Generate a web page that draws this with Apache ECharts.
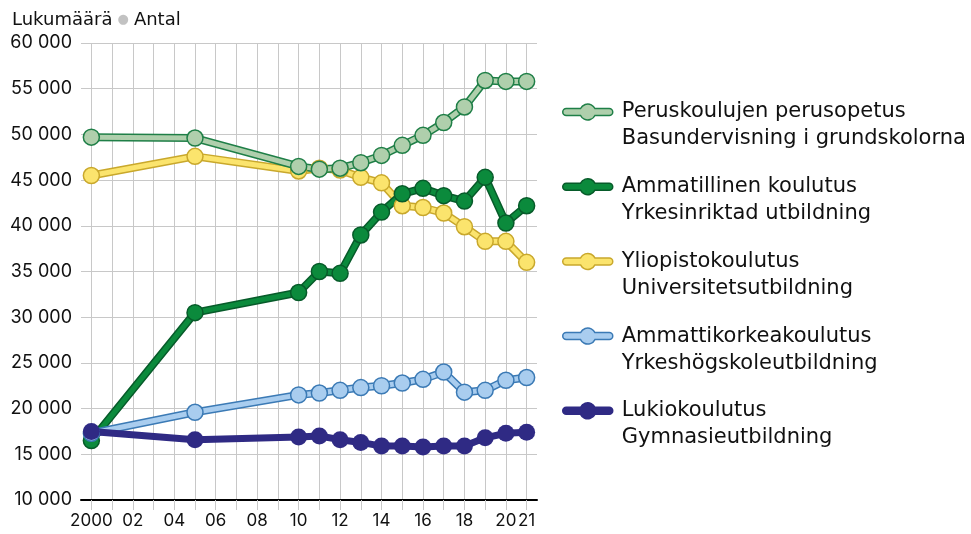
<!DOCTYPE html>
<html>
<head>
<meta charset="utf-8">
<script src="https://cdn.jsdelivr.net/npm/echarts@6/dist/echarts.min.js"></script>
<style>
  html, body { margin: 0; padding: 0; background: #fff; }
  #chart { width: 971px; height: 534px; }
</style>
</head>
<body>
<div id="chart"></div>
<script>
// data
var years = [2000, 2005, 2010, 2011, 2012, 2013, 2014, 2015, 2016, 2017, 2018, 2019, 2020, 2021]
var peruskoulu = [49700, 49600, 46500, 46200, 46300, 46900, 47700, 48800, 49900, 51300, 53000, 55900, 55800, 55800]
var ammatillinen = [16500, 30500, 32700, 35000, 34800, 39000, 41500, 43500, 44100, 43300, 42700, 45300, 40300, 42200]
var yliopisto = [45500, 47600, 46000, 46300, 46100, 45300, 44700, 42200, 42000, 41400, 39900, 38300, 38300, 36000]
var amk = [17300, 19600, 21500, 21700, 22000, 22300, 22500, 22800, 23200, 24000, 21800, 22000, 23100, 23400]
var lukio = [17500, 16600, 16900, 17000, 16600, 16300, 15900, 15900, 15800, 15900, 15900, 16800, 17300, 17400]

var gridYears = [2000, 2001, 2002, 2003, 2004, 2005, 2006, 2007, 2008, 2009, 2010, 2011, 2012, 2013, 2014, 2015, 2016, 2017, 2018, 2019, 2020, 2021]
var labelYears = [2000, 2002, 2004, 2006, 2008, 2010, 2012, 2014, 2016, 2018, 2020, 2021]

var names = {
  perus: 'Peruskoulujen perusopetus\nBasundervisning i grundskolorna',
  amm: 'Ammatillinen koulutus\nYrkesinriktad utbildning',
  yo: 'Yliopistokoulutus\nUniversitetsutbildning',
  amk: 'Ammattikorkeakoulutus\nYrkeshögskoleutbildning',
  lukio: 'Lukiokoulutus\nGymnasieutbildning'
}

var FONT = 'Inter, "Noto Sans", sans-serif'
var TEXT_FONT = '"DejaVu Sans", sans-serif'

// legend icon: rounded band with a circle in the middle
var iconPath = 'path://M3.5 4.5 L17.81 4.5 A8 8 0 0 1 32.19 4.5 L46.5 4.5 A3.5 3.5 0 0 1 46.5 11.5 L32.19 11.5 A8 8 0 0 1 17.81 11.5 L3.5 11.5 A3.5 3.5 0 0 1 3.5 4.5 Z'

function pairs(values) {
  return years.map(function(y, i) { return [y, values[i]] })
}

// two lines per series: a wide dark one under a narrower light one
function outlined(name, values, fill, border) {
  return [{
    name: name,
    type: 'line',
    data: pairs(values),
    symbol: 'none',
    silent: true,
    lineStyle: { width: 8, color: border },
    emphasis: { disabled: true }
  }, {
    name: name,
    type: 'line',
    data: pairs(values),
    symbol: 'circle',
    symbolSize: 16,
    lineStyle: { width: 5, color: fill },
    itemStyle: { color: fill, borderColor: border, borderWidth: 1.5 },
    emphasis: { disabled: true }
  }]
}

function fmtThousands(v) {
  return String(v).replace(/\B(?=(\d{3})+(?!\d))/g, ' ')
}

var chart = echarts.init(document.getElementById('chart'))

var series = [].concat(
  outlined(names.yo, yliopisto, '#fbe46d', '#c9a82c'),
  outlined(names.perus, peruskoulu, '#afcfac', '#1f7f47'),
  outlined(names.amm, ammatillinen, '#0b8a3c', '#075b2a'),
  outlined(names.amk, amk, '#a9cdef', '#3b7ab5'),
  [{
    name: names.lukio,
    type: 'line',
    data: pairs(lukio),
    symbol: 'circle',
    symbolSize: 17,
    lineStyle: { width: 7, color: '#2f2a84' },
    itemStyle: { color: '#2f2a84' },
    emphasis: { disabled: true }
  }]
)

function legendItem(name, fill, border) {
  return { name: name, icon: iconPath, itemStyle: { color: fill, borderColor: border, borderWidth: 1.5 } }
}

chart.setOption({
  animation: false,
  textStyle: { fontFamily: FONT },
  title: {
    left: 7,
    top: 6,
    text: '{a|Lukumäärä} {b|●} {a|Antal}',
    textStyle: {
      fontWeight: 'normal',
      rich: {
        a: { fontSize: 18, color: '#111', fontFamily: TEXT_FONT, fontWeight: 'normal' },
        b: { fontSize: 13, color: '#c2c2c2', fontFamily: TEXT_FONT, fontWeight: 'normal' }
      }
    }
  },
  legend: {
    orient: 'vertical',
    left: 562,
    top: 71.5,
    padding: 0,
    itemGap: -6.3,
    itemWidth: 50,
    itemHeight: 16,
    selectedMode: false,
    // empty first line puts the icon level with the first text line
    formatter: function(name) { return '\n' + name },
    textStyle: {
      fontSize: 21,
      lineHeight: 27,
      color: '#111',
      fontFamily: TEXT_FONT,
      padding: [0, 0, 0, 4]
    },
    data: [
      legendItem(names.perus, '#afcfac', '#1f7f47'),
      legendItem(names.amm, '#0b8a3c', '#075b2a'),
      legendItem(names.yo, '#fbe46d', '#c9a82c'),
      legendItem(names.amk, '#a9cdef', '#3b7ab5'),
      legendItem(names.lukio, '#2f2a84', '#2f2a84')
    ]
  },
  grid: {
    left: 81,
    right: 434,
    top: 43,
    bottom: 34
  },
  xAxis: {
    type: 'value',
    min: 1999.5,
    max: 2021.5,
    axisLine: { show: true, onZero: false, lineStyle: { color: '#000', width: 2 } },
    axisTick: { show: true, length: 10, customValues: gridYears, lineStyle: { color: '#c8c8c8', width: 1 } },
    axisLabel: {
      customValues: labelYears,
      fontSize: 17,
      color: '#111',
      margin: 12,
      formatter: function(v) {
        return v === 2000 ? '2000' : String(v).slice(2)
      }
    },
    splitLine: { show: true, lineStyle: { color: '#c8c8c8', width: 1 } }
  },
  yAxis: {
    type: 'value',
    min: 10000,
    max: 60000,
    interval: 5000,
    axisLine: { show: false },
    axisTick: { show: false },
    axisLabel: {
      fontSize: 18,
      color: '#111',
      margin: 9,
      formatter: fmtThousands
    },
    splitLine: { show: true, lineStyle: { color: '#c8c8c8', width: 1 } }
  },
  series: series
})
</script>
</body>
</html>
